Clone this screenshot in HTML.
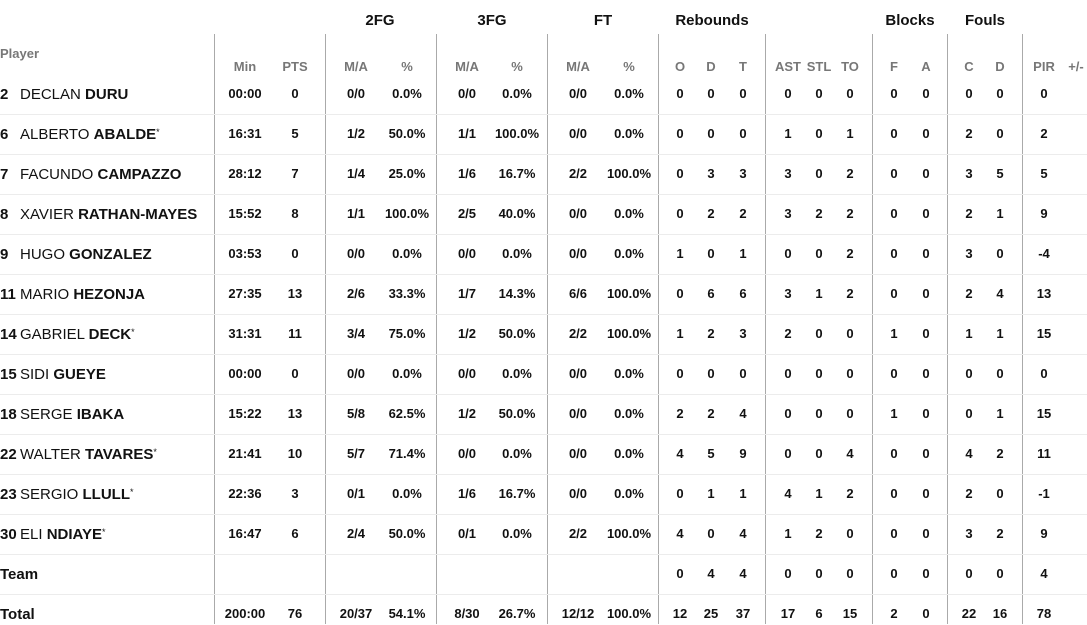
<!DOCTYPE html>
<html><head><meta charset="utf-8"><style>
body{margin:0;width:1087px;height:624px;overflow:hidden;background:#fff;font-family:"Liberation Sans",sans-serif;color:#111;position:relative}
.v{position:absolute;top:34px;bottom:0;width:1px;background:#aaa}
.h{position:absolute;left:0;width:1087px;height:1px;background:#ececec}
.r{position:absolute;left:0;width:1087px;height:20px;line-height:20px;font-size:13px;font-weight:bold}
.r i{font-style:normal;position:absolute;top:0;width:60px;margin-left:-30px;text-align:center}
.r i:nth-of-type(1){left:245px}.r i:nth-of-type(2){left:295px}
.r i:nth-of-type(3){left:356px}.r i:nth-of-type(4){left:407px}
.r i:nth-of-type(5){left:467px}.r i:nth-of-type(6){left:517px}
.r i:nth-of-type(7){left:578px}.r i:nth-of-type(8){left:629px}
.r i:nth-of-type(9){left:680px}.r i:nth-of-type(10){left:711px}.r i:nth-of-type(11){left:743px}
.r i:nth-of-type(12){left:788px}.r i:nth-of-type(13){left:819px}.r i:nth-of-type(14){left:850px}
.r i:nth-of-type(15){left:894px}.r i:nth-of-type(16){left:926px}
.r i:nth-of-type(17){left:969px}.r i:nth-of-type(18){left:1000px}
.r i:nth-of-type(19){left:1044px}.r i:nth-of-type(20){left:1076px}
.hd{color:#777;font-size:13px}
.p{position:absolute;left:0;top:1px;font-size:15px;font-weight:normal;white-space:nowrap}
.p s{text-decoration:none;font-weight:bold;display:inline-block;min-width:20px}
.p b{font-weight:bold}
.p sup{font-size:9px;vertical-align:4px;line-height:0}
.g{position:absolute;top:12px;font-size:15px;font-weight:bold;transform:translateX(-50%)}
</style></head><body>
<div class="v" style="left:214px"></div><div class="v" style="left:325px"></div><div class="v" style="left:436px"></div><div class="v" style="left:547px"></div><div class="v" style="left:658px"></div><div class="v" style="left:765px"></div><div class="v" style="left:872px"></div><div class="v" style="left:947px"></div><div class="v" style="left:1022px"></div>
<div class="h" style="top:114px"></div><div class="h" style="top:154px"></div><div class="h" style="top:194px"></div><div class="h" style="top:234px"></div><div class="h" style="top:274px"></div><div class="h" style="top:314px"></div><div class="h" style="top:354px"></div><div class="h" style="top:394px"></div><div class="h" style="top:434px"></div><div class="h" style="top:474px"></div><div class="h" style="top:514px"></div><div class="h" style="top:554px"></div><div class="h" style="top:594px"></div>
<div class="g" style="left:380px">2FG</div><div class="g" style="left:492px">3FG</div><div class="g" style="left:603px">FT</div><div class="g" style="left:712px">Rebounds</div><div class="g" style="left:910px">Blocks</div><div class="g" style="left:985px">Fouls</div>
<div style="position:absolute;left:0;top:46px;font-size:13px;font-weight:bold;color:#777">Player</div>
<div class="r hd" style="top:57px"><i>Min</i><i>PTS</i><i>M/A</i><i>%</i><i>M/A</i><i>%</i><i>M/A</i><i>%</i><i>O</i><i>D</i><i>T</i><i>AST</i><i>STL</i><i>TO</i><i>F</i><i>A</i><i>C</i><i>D</i><i>PIR</i><i>+/-</i></div>
<div class="r" style="top:84px"><span class="p"><s>2</s>DECLAN <b>DURU</b></span><i>00:00</i><i>0</i><i>0/0</i><i>0.0%</i><i>0/0</i><i>0.0%</i><i>0/0</i><i>0.0%</i><i>0</i><i>0</i><i>0</i><i>0</i><i>0</i><i>0</i><i>0</i><i>0</i><i>0</i><i>0</i><i>0</i><i></i></div>
<div class="r" style="top:124px"><span class="p"><s>6</s>ALBERTO <b>ABALDE</b><sup>*</sup></span><i>16:31</i><i>5</i><i>1/2</i><i>50.0%</i><i>1/1</i><i>100.0%</i><i>0/0</i><i>0.0%</i><i>0</i><i>0</i><i>0</i><i>1</i><i>0</i><i>1</i><i>0</i><i>0</i><i>2</i><i>0</i><i>2</i><i></i></div>
<div class="r" style="top:164px"><span class="p"><s>7</s>FACUNDO <b>CAMPAZZO</b></span><i>28:12</i><i>7</i><i>1/4</i><i>25.0%</i><i>1/6</i><i>16.7%</i><i>2/2</i><i>100.0%</i><i>0</i><i>3</i><i>3</i><i>3</i><i>0</i><i>2</i><i>0</i><i>0</i><i>3</i><i>5</i><i>5</i><i></i></div>
<div class="r" style="top:204px"><span class="p"><s>8</s>XAVIER <b>RATHAN-MAYES</b></span><i>15:52</i><i>8</i><i>1/1</i><i>100.0%</i><i>2/5</i><i>40.0%</i><i>0/0</i><i>0.0%</i><i>0</i><i>2</i><i>2</i><i>3</i><i>2</i><i>2</i><i>0</i><i>0</i><i>2</i><i>1</i><i>9</i><i></i></div>
<div class="r" style="top:244px"><span class="p"><s>9</s>HUGO <b>GONZALEZ</b></span><i>03:53</i><i>0</i><i>0/0</i><i>0.0%</i><i>0/0</i><i>0.0%</i><i>0/0</i><i>0.0%</i><i>1</i><i>0</i><i>1</i><i>0</i><i>0</i><i>2</i><i>0</i><i>0</i><i>3</i><i>0</i><i>-4</i><i></i></div>
<div class="r" style="top:284px"><span class="p"><s>11</s>MARIO <b>HEZONJA</b></span><i>27:35</i><i>13</i><i>2/6</i><i>33.3%</i><i>1/7</i><i>14.3%</i><i>6/6</i><i>100.0%</i><i>0</i><i>6</i><i>6</i><i>3</i><i>1</i><i>2</i><i>0</i><i>0</i><i>2</i><i>4</i><i>13</i><i></i></div>
<div class="r" style="top:324px"><span class="p"><s>14</s>GABRIEL <b>DECK</b><sup>*</sup></span><i>31:31</i><i>11</i><i>3/4</i><i>75.0%</i><i>1/2</i><i>50.0%</i><i>2/2</i><i>100.0%</i><i>1</i><i>2</i><i>3</i><i>2</i><i>0</i><i>0</i><i>1</i><i>0</i><i>1</i><i>1</i><i>15</i><i></i></div>
<div class="r" style="top:364px"><span class="p"><s>15</s>SIDI <b>GUEYE</b></span><i>00:00</i><i>0</i><i>0/0</i><i>0.0%</i><i>0/0</i><i>0.0%</i><i>0/0</i><i>0.0%</i><i>0</i><i>0</i><i>0</i><i>0</i><i>0</i><i>0</i><i>0</i><i>0</i><i>0</i><i>0</i><i>0</i><i></i></div>
<div class="r" style="top:404px"><span class="p"><s>18</s>SERGE <b>IBAKA</b></span><i>15:22</i><i>13</i><i>5/8</i><i>62.5%</i><i>1/2</i><i>50.0%</i><i>0/0</i><i>0.0%</i><i>2</i><i>2</i><i>4</i><i>0</i><i>0</i><i>0</i><i>1</i><i>0</i><i>0</i><i>1</i><i>15</i><i></i></div>
<div class="r" style="top:444px"><span class="p"><s>22</s>WALTER <b>TAVARES</b><sup>*</sup></span><i>21:41</i><i>10</i><i>5/7</i><i>71.4%</i><i>0/0</i><i>0.0%</i><i>0/0</i><i>0.0%</i><i>4</i><i>5</i><i>9</i><i>0</i><i>0</i><i>4</i><i>0</i><i>0</i><i>4</i><i>2</i><i>11</i><i></i></div>
<div class="r" style="top:484px"><span class="p"><s>23</s>SERGIO <b>LLULL</b><sup>*</sup></span><i>22:36</i><i>3</i><i>0/1</i><i>0.0%</i><i>1/6</i><i>16.7%</i><i>0/0</i><i>0.0%</i><i>0</i><i>1</i><i>1</i><i>4</i><i>1</i><i>2</i><i>0</i><i>0</i><i>2</i><i>0</i><i>-1</i><i></i></div>
<div class="r" style="top:524px"><span class="p"><s>30</s>ELI <b>NDIAYE</b><sup>*</sup></span><i>16:47</i><i>6</i><i>2/4</i><i>50.0%</i><i>0/1</i><i>0.0%</i><i>2/2</i><i>100.0%</i><i>4</i><i>0</i><i>4</i><i>1</i><i>2</i><i>0</i><i>0</i><i>0</i><i>3</i><i>2</i><i>9</i><i></i></div>
<div class="r" style="top:564px"><span class="p"><b>Team</b></span><i></i><i></i><i></i><i></i><i></i><i></i><i></i><i></i><i>0</i><i>4</i><i>4</i><i>0</i><i>0</i><i>0</i><i>0</i><i>0</i><i>0</i><i>0</i><i>4</i><i></i></div>
<div class="r" style="top:604px"><span class="p"><b>Total</b></span><i>200:00</i><i>76</i><i>20/37</i><i>54.1%</i><i>8/30</i><i>26.7%</i><i>12/12</i><i>100.0%</i><i>12</i><i>25</i><i>37</i><i>17</i><i>6</i><i>15</i><i>2</i><i>0</i><i>22</i><i>16</i><i>78</i><i></i></div>
</body></html>
